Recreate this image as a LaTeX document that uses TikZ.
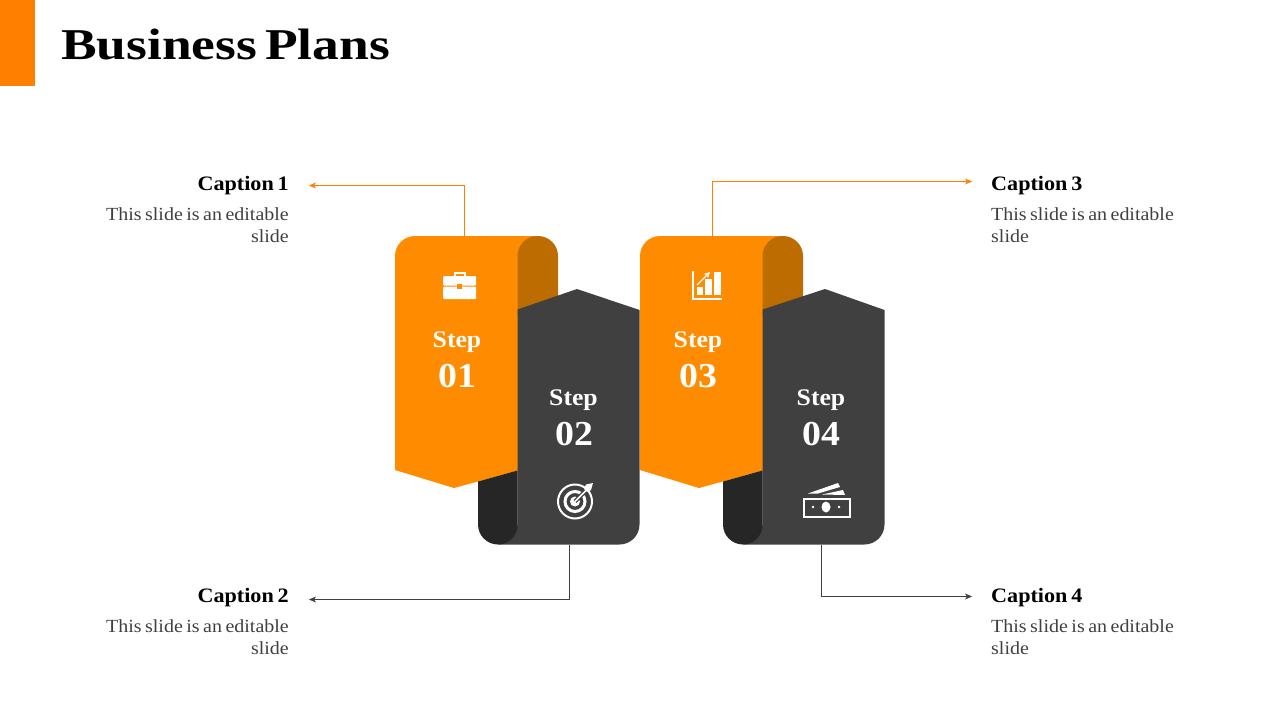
\documentclass[tikz,border=0pt]{standalone}
\usepackage{fontspec}
\setmainfont[FakeStretch=1.08,WordSpace=0.7]{Liberation Serif}
\newfontfamily\titlefont[FakeStretch=1.215,WordSpace=0.6]{Liberation Serif}
\usetikzlibrary{arrows.meta,positioning}
\definecolor{barorange}{HTML}{FF7F00}
\definecolor{bandorange}{HTML}{FF8C00}
\definecolor{foldorange}{HTML}{BC6C00}
\definecolor{bandgray}{HTML}{404040}
\definecolor{foldgray}{HTML}{262626}
\tikzset{
title/.style = {anchor=base west, inner sep=0pt, font=\titlefont\fontsize{44}{48}\selectfont\bfseries},
capname/.style = {inner sep=0pt, text=black, font=\fontsize{20.5}{22}\selectfont\bfseries},
captext/.style = {inner sep=0pt, align=left, text=bandgray, font=\fontsize{18.5}{22.5}\selectfont},
stepname/.style = {inner sep=0pt, text=white, font=\fontsize{23.8}{26}\selectfont\bfseries},
stepnum/.style = {inner sep=0pt, text=white, font=\fontsize{35}{38}\selectfont\bfseries},
orangeline/.style = {draw=barorange, line width=0.8pt, -{Stealth[length=7pt,width=6pt,inset=2pt]}},
grayline/.style = {draw=bandgray, line width=0.8pt, -{Stealth[length=7pt,width=6pt,inset=2pt]}},
iconline/.style = {draw=white, line width=2pt}
}
\begin{document}
\begin{tikzpicture}[x=1pt,y=-1pt]
	\useasboundingbox (0,0) rectangle (1280,720);
	\fill[barorange] (0,0) rectangle (35,86);
	\node [title] (head) at (61,59) {Business Plans};
	% the two pairs of bands
	\foreach \xs/\ap in {0/577,245/580} {
		\begin{scope}[xshift=\xs pt]
			\fill[bandorange] (395,470) -- (395,256) arc[start angle=180,end angle=90,radius=20pt] -- (540,236) -- (518,310) -- (518,470.5) -- (454,488) -- cycle;
			\fill[foldorange] (517.5,256) arc[start angle=180,end angle=90,radius=20pt] -- (538,236) arc[start angle=90,end angle=0,radius=20pt] -- (558,300) -- (517.5,315) -- cycle;
			\fill[bandgray] (517.5,309.5) -- (\ap,289) -- (639.5,310) -- (639.5,524.5) arc[start angle=0,end angle=-90,radius=20pt] -- (498,544.5) -- (517.5,525) -- cycle;
			\fill[foldgray] (478,481.5) -- (517.5,470.5) -- (517.5,525) arc[start angle=0,end angle=-90,radius=19.5pt] arc[start angle=-90,end angle=-180,radius=20pt] -- cycle;
		\end{scope}
	}
	% step labels
	\node [stepname] (step1) at (457,342) {Step};
	\node [stepnum] (num1) at (457,376) {01};
	\node [stepname] (step2) at (573.5,400) {Step};
	\node [stepnum] (num2) at (574,434) {02};
	\node [stepname] (step3) at (698,342) {Step};
	\node [stepnum] (num3) at (698,376) {03};
	\node [stepname] (step4) at (821,400) {Step};
	\node [stepnum] (num4) at (821,434) {04};
	% briefcase
	\draw[iconline] (455,277) -- (455,272.5) -- (464.5,272.5) -- (464.5,277);
	\fill[white,rounded corners=1pt] (443,276) rectangle (476,285.5);
	\fill[white,rounded corners=1pt] (443,286.5) rectangle (476,299);
	\fill[bandorange] (457,283.5) rectangle (462,288.5);
	% chart
	\draw[iconline] (692.5,271) -- (692.5,298.5) -- (721.5,298.5);
	\fill[white] (696.5,287) rectangle (703,295);
	\fill[white] (705,279) rectangle (712,295);
	\fill[white] (713.5,271.5) rectangle (721,295);
	\draw[draw=white,line width=1.2pt,-{Stealth[length=6pt,width=6pt]}] (697,285) -- (710,272);
	% target
	\draw[iconline] (575,501.5) circle[radius=17pt];
	\draw[iconline,line width=3pt] (575,501.5) circle[radius=10pt];
	\fill[white] (575,501.5) circle[radius=5pt];
	\draw[bandgray,line width=4pt] (575,501.5) -- (592,484.5);
	\draw[white,line width=1.5pt] (575,501.5) -- (587,489.5);
	\fill[white] (584,489) -- (586,484.5) -- (593,483) -- (591,490) -- (587,492) -- cycle;
	% bank notes
	\fill[white] (808,493.5) -- (838,483) -- (840,487) -- (818,493.5) -- cycle;
	\fill[white] (822,494.5) -- (843,490) -- (845,495) -- cycle;
	\draw[iconline] (804,498.5) rectangle (849.5,516.5);
	\fill[white] (826,507) ellipse[x radius=4.5pt,y radius=5.5pt];
	\fill[white] (813,507) circle[radius=1.3pt];
	\fill[white] (839,507) circle[radius=1.3pt];
	% captions
	\node [capname,anchor=base east] (cap1) at (289,190) {Caption 1};
	\node [captext,anchor=north east,align=right] (txt1) at (289,207) {This slide is an editable\\slide};
	\node [capname,anchor=base east] (cap2) at (289,602) {Caption 2};
	\node [captext,anchor=north east,align=right] (txt2) at (289,619) {This slide is an editable\\slide};
	\node [capname,anchor=base west] (cap3) at (991,190) {Caption 3};
	\node [captext,anchor=north west] (txt3) at (991,207) {This slide is an editable\\slide};
	\node [capname,anchor=base west] (cap4) at (991,602) {Caption 4};
	\node [captext,anchor=north west] (txt4) at (991,619) {This slide is an editable\\slide};
	% connectors
	\coordinate (from1) at (464.5,236);
	\coordinate (to1) at (309,185.5);
	\coordinate (from2) at (569,544.5);
	\coordinate (to2) at (309,599.5);
	\coordinate (from3) at (712.5,236);
	\coordinate (to3) at (972,181.5);
	\coordinate (from4) at (821,544.5);
	\coordinate (to4) at (972,596.5);
	\draw[orangeline] (from1) |- (to1);
	\draw[grayline] (from2) |- (to2);
	\draw[orangeline] (from3) |- (to3);
	\draw[grayline] (from4) |- (to4);
\end{tikzpicture}
\end{document}
